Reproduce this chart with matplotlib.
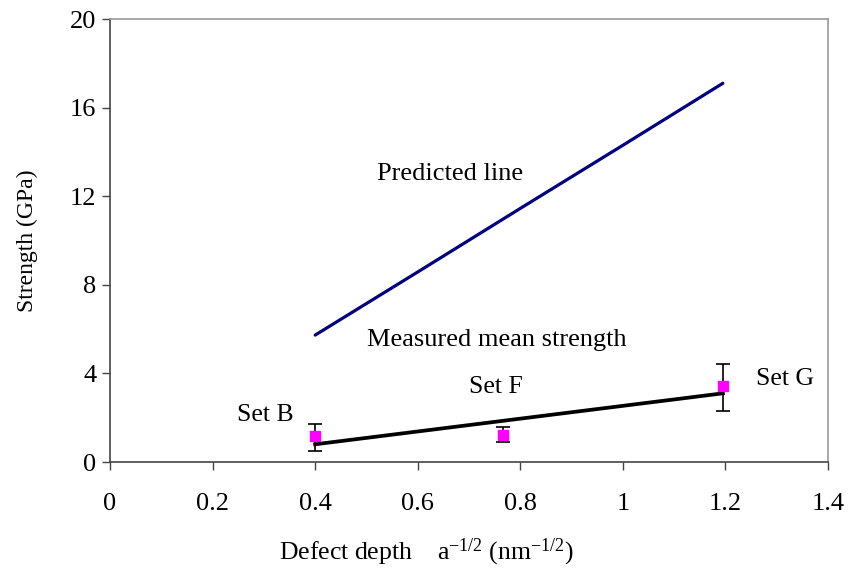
import matplotlib
matplotlib.use("Agg")
import matplotlib.pyplot as plt

# values
predicted_x = [0.40, 0.60, 0.80, 1.00, 1.195]
predicted_y = [5.73, 8.58, 11.45, 14.30, 17.10]

fit_x = [0.40, 1.195]
fit_y = [0.80, 3.10]

set_names = ["Set B", "Set F", "Set G"]
set_x = [0.40, 0.766, 1.195]
set_mean = [1.17, 1.22, 3.43]
err_low = [0.69, 0.33, 1.13]
err_high = [0.55, 0.38, 0.99]

x_ticks = [0, 0.2, 0.4, 0.6, 0.8, 1.0, 1.2, 1.4]
x_tick_labels = ["0", "0.2", "0.4", "0.6", "0.8", "1", "1.2", "1.4"]
y_ticks = [0, 4, 8, 12, 16, 20]

plt.rcParams["font.family"] = ["Liberation Serif", "DejaVu Serif"]
plt.rcParams["mathtext.fontset"] = "custom"
plt.rcParams["mathtext.rm"] = "Liberation Serif"
plt.rcParams["mathtext.it"] = "Liberation Serif"

fig = plt.figure(figsize=(8.49, 5.76), dpi=100)
ax = fig.add_axes([0.1296, 0.1979, 0.8457, 0.7691])

ax.plot(predicted_x, predicted_y, color="#000080", linewidth=2.3, solid_capstyle="round")
ax.plot(fit_x, fit_y, color="black", linewidth=2.7)
ax.errorbar(set_x, set_mean, yerr=[err_low, err_high], fmt="s", color="#ff00ff",
            markersize=7.5, ecolor="black", elinewidth=1.2, capsize=5, capthick=1.2, zorder=3)

fs = 19
ax.text(0.663, 13.0, "Predicted line", ha="center", va="center", fontsize=fs)
ax.text(0.755, 5.5, "Measured mean strength", ha="center", va="center", fontsize=fs)
label_pos = [(0.302, 2.12), (0.753, 3.39), (1.316, 3.75)]
for name, (tx, ty) in zip(set_names, label_pos):
    ax.text(tx, ty, name, ha="center", va="center", fontsize=18.5)

ax.set_xlim(0, 1.4)
ax.set_ylim(0, 20)
ax.set_xticks(x_ticks)
ax.set_xticklabels(x_tick_labels)
ax.set_yticks(y_ticks)
ax.tick_params(axis="x", direction="out", length=6, width=1, pad=16, labelsize=fs, color="#444")
ax.tick_params(axis="y", direction="out", length=6, width=1, pad=4, labelsize=fs, color="#444")

for side in ["left", "bottom"]:
    ax.spines[side].set_color("#444")
    ax.spines[side].set_linewidth(1.2)
for side in ["top", "right"]:
    ax.spines[side].set_color("#999")
    ax.spines[side].set_linewidth(1.2)

ax.set_xlabel("Defect depth    a$^{-1/2}$ (nm$^{-1/2}$)", fontsize=18.5, labelpad=16, x=0.44)
ax.set_ylabel("Strength (GPa)", fontsize=17, labelpad=23)

fig.savefig("out.png", dpi=100)
